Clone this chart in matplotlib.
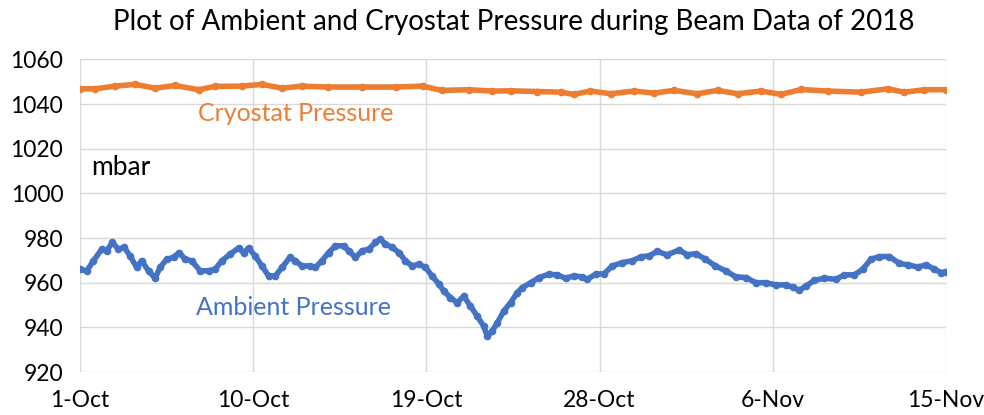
import matplotlib.pyplot as plt

plt.rcParams['font.family'] = ['Lato', 'DejaVu Sans']

# days since 1-Oct-2018
ambient_day = [0, 0.35, 0.7, 1.13, 1.39, 1.68, 2.0, 2.3, 2.6, 2.95, 3.2, 3.56, 3.9, 4.16,
               4.5, 4.86, 5.15, 5.46, 5.8, 6.24, 6.68, 7.02, 7.37, 7.8, 8.24, 8.5, 8.76,
               9.1, 9.45, 9.8, 10.15, 10.5, 10.9, 11.19, 11.53, 11.97, 12.23, 12.57, 12.92,
               13.27, 13.7, 13.96, 14.31, 14.66, 15.0, 15.35, 15.61, 15.87, 16.22, 16.57,
               16.91, 17.26, 17.6, 17.95, 18.3, 18.65, 18.9, 19.25, 19.6, 19.94, 20.29,
               20.64, 20.98, 21.16, 21.42, 21.68, 22.02, 22.37, 22.72, 22.98, 23.42, 23.85,
               24.37, 24.8, 25.23, 25.67, 26.1, 26.36, 26.79, 27.23, 27.66, 28.18, 28.7,
               29.14, 29.57, 30.0, 30.5, 31.13, 31.56, 32.0, 32.5, 33.02, 33.55, 34.08,
               34.6, 35.12, 35.64, 36.16, 36.68, 37.03, 37.38, 37.72, 38.16, 38.68, 39.28,
               39.72, 40.24, 40.67, 41.1, 41.54, 42.06, 42.58, 43.01, 43.53, 43.97, 44.4,
               44.75, 45.0]
ambient = [966, 965.3, 969.8, 975, 974.3, 978, 975, 975.8, 972, 966.8, 969.8, 965.3, 962,
           966.8, 970.5, 971.3, 973.5, 970.5, 969.8, 965.3, 965.3, 966, 969.8, 972.8, 975.5,
           973.5, 975.5, 972, 967.5, 963, 963, 966.8, 971.3, 969.8, 967.5, 967.5, 966.8,
           969.8, 973.5, 976.5, 976.5, 974.3, 971.3, 974.3, 975, 978, 979.5, 977.3, 975.8,
           973.5, 969.8, 967.5, 968.3, 966.8, 963, 959.3, 956.3, 953.3, 951, 954, 949.5,
           945, 940.5, 936, 938.3, 942, 947.3, 951, 955.5, 957.8, 960, 962.3, 963.8, 963.5,
           962, 963, 962.6, 961.5, 963.8, 964, 967.5, 969, 969.8, 971.6, 972, 974, 972.5,
           974.6, 972.5, 973, 970.5, 967.5, 965.3, 962.6, 962.3, 960, 960, 959, 959, 958,
           956.6, 958.5, 961, 962, 961.5, 963.5, 963.5, 966, 970.5, 971.7, 971.7, 968.6,
           968, 967, 968, 966, 964.5, 965]

cryo_day = [0, 0.78, 1.82, 2.86, 3.9, 4.94, 6.16, 7.02, 8.4, 9.45, 10.5, 11.53, 12.9, 14.66,
            16.4, 17.8, 18.8, 20.2, 21.42, 22.4, 23.75, 24.97, 25.66, 26.52, 27.57, 28.78,
            29.83, 30.87, 32.08, 33.13, 34.17, 35.39, 36.43, 37.47, 38.85, 40.59, 41.97,
            42.84, 43.88, 45.0]
cryo = [1046.8, 1046.8, 1048, 1048.8, 1047.1, 1048.3, 1046.4, 1047.9, 1048, 1048.8, 1047.1,
        1048, 1047.6, 1047.6, 1047.6, 1048, 1046.1, 1046.4, 1045.8, 1045.9, 1045.6, 1045.3,
        1044.3, 1045.8, 1044.6, 1045.8, 1044.9, 1046.1, 1044.6, 1046.1, 1044.6, 1045.8,
        1044.3, 1046.5, 1045.8, 1045.3, 1046.8, 1045.3, 1046.4, 1046.4]

tick_days = [0, 9, 18, 27, 36, 45]
tick_labels = ['1-Oct', '10-Oct', '19-Oct', '28-Oct', '6-Nov', '15-Nov']

blue = '#4472C4'
orange = '#ED7D31'

fig = plt.figure(figsize=(9.84, 4.15), dpi=100)
ax = fig.add_axes([0.0813, 0.1036, 0.8801, 0.7534])

ax.plot(cryo_day, cryo, color=orange, lw=4, marker='o', ms=4.5, zorder=3)
ax.plot(ambient_day, ambient, color=blue, lw=4, marker='o', ms=4.5, zorder=3)

ax.set_xlim(0, 45)
ax.set_ylim(920, 1060)
ax.set_yticks(range(920, 1061, 20))
ax.set_xticks(tick_days)
ax.set_xticklabels(tick_labels)
ax.grid(True, color='#D9D9D9', lw=1)
ax.set_axisbelow(True)
for s in ax.spines.values():
    s.set_visible(False)
ax.tick_params(length=0, labelsize=16.5, colors='black')
ax.tick_params(axis='y', pad=12)
ax.tick_params(axis='x', pad=13)

ax.text(11.2, 1035.6, 'Cryostat Pressure', color=orange, fontsize=18, ha='center', va='center')
ax.text(0.6, 1011.4, 'mbar', color='black', fontsize=19, ha='left', va='center')
ax.text(11.1, 948.7, 'Ambient Pressure', color=blue, fontsize=18, ha='center', va='center')

fig.text(0.522, 0.947, 'Plot of Ambient and Cryostat Pressure during Beam Data of 2018',
         fontsize=20, ha='center', va='center')

fig.savefig('out.png', dpi=100)
